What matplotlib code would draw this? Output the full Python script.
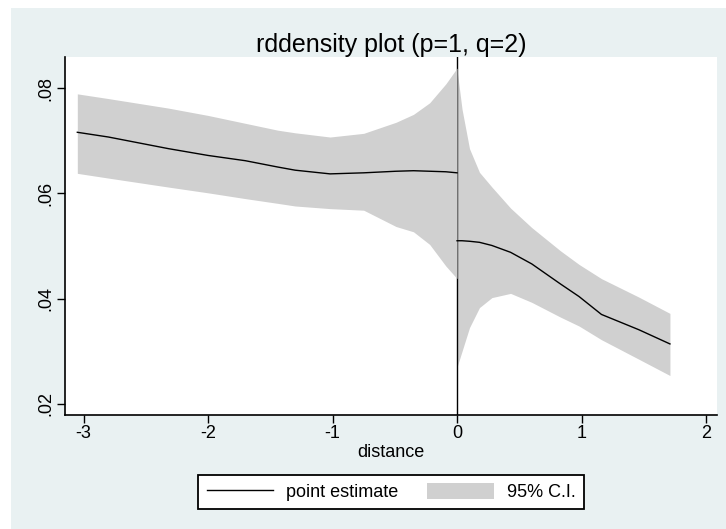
import matplotlib
matplotlib.use("Agg")
import matplotlib.pyplot as plt
from matplotlib.patches import Rectangle, Patch
from matplotlib.lines import Line2D

plt.rcParams['font.family'] = ['Liberation Sans', 'DejaVu Sans']

# ---- data ----
left_x = [-3.05, -2.8, -2.32, -2.0, -1.7, -1.44, -1.3, -1.02, -0.75, -0.49, -0.35, -0.22, -0.09, 0.0]
left_est = [0.0716, 0.0707, 0.0685, 0.0672, 0.0662, 0.0650, 0.0644, 0.0637, 0.0639, 0.0642, 0.0643, 0.0642, 0.0641, 0.0639]
left_hi = [0.0789, 0.0780, 0.0762, 0.0748, 0.0733, 0.0720, 0.0715, 0.0707, 0.0714, 0.0735, 0.0750, 0.0772, 0.0808, 0.0838]
left_lo = [0.0638, 0.0629, 0.0612, 0.0601, 0.0590, 0.0581, 0.0576, 0.0571, 0.0568, 0.0537, 0.0527, 0.0503, 0.0462, 0.0438]

right_x = [0.0, 0.04, 0.10, 0.18, 0.28, 0.43, 0.60, 0.83, 0.98, 1.16, 1.46, 1.71]
right_est = [0.0510, 0.0510, 0.0509, 0.0507, 0.0501, 0.0488, 0.0466, 0.0428, 0.0404, 0.0370, 0.0341, 0.0314]
right_hi = [0.0835, 0.0760, 0.0685, 0.0640, 0.0612, 0.0572, 0.0535, 0.0491, 0.0465, 0.0438, 0.0403, 0.0372]
right_lo = [0.0270, 0.0300, 0.0345, 0.0383, 0.0402, 0.0410, 0.0393, 0.0365, 0.0348, 0.0322, 0.0285, 0.0254]

x_ticks = [-3, -2, -1, 0, 1, 2]
x_ticklabels = ['-3', '-2', '-1', '0', '1', '2']
y_ticks = [0.02, 0.04, 0.06, 0.08]
y_ticklabels = ['.02', '.04', '.06', '.08']

title = 'rddensity plot (p=1, q=2)'
xlabel = 'distance'
legend_labels = ['point estimate', '95% C.I.']

# ---- figure ----
W, H = 726, 529
fig = plt.figure(figsize=(W / 100, H / 100), dpi=100, facecolor='white')
bg = '#E9F1F2'
fig.patches.append(Rectangle((11 / W, 0), 1 - 11 / W, 1 - 8 / H, transform=fig.transFigure,
                             facecolor=bg, edgecolor='none', zorder=-10))

ax = fig.add_axes([65 / W, (H - 415) / H, (717 - 65) / W, (415 - 57) / H])
ax.set_facecolor('white')

band_col = '#D0D0D0'
ax.fill_between(right_x, right_lo, right_hi, color=band_col, lw=0, zorder=1)
ax.axvline(0, color='black', lw=1.0, zorder=2)
ax.fill_between(left_x, left_lo, left_hi, color=band_col, lw=0, zorder=3)
ax.plot(left_x, left_est, color='black', lw=1.0, zorder=4)
ax.plot(right_x, right_est, color='black', lw=1.0, zorder=4)

ax.set_xlim(-3.149, 2.088)
ax.set_ylim(0.0179, 0.0859)

for s in ['top', 'right']:
    ax.spines[s].set_visible(False)
for s in ['left', 'bottom']:
    ax.spines[s].set_linewidth(1.2)
    ax.spines[s].set_color('black')

ax.set_xticks(x_ticks)
ax.set_xticklabels(x_ticklabels)
ax.set_yticks(y_ticks)
ax.set_yticklabels(y_ticklabels, rotation=90, va='center')
ax.tick_params(axis='both', direction='out', length=6, width=1.0, labelsize=13, color='black')
ax.tick_params(axis='x', pad=1.5)
ax.tick_params(axis='y', pad=1.5)

ax.set_xlabel(xlabel, fontsize=13, labelpad=1)

fig.text(391 / W, 1 - 52 / H, title, ha='center', va='baseline', fontsize=18)

handles = [Line2D([0], [0], color='black', lw=1.0),
           Patch(facecolor=band_col, edgecolor='none')]
leg = fig.legend(handles, legend_labels, ncol=2, loc='center',
                 bbox_to_anchor=(391 / W, 1 - 492 / H), fontsize=13,
                 frameon=True, fancybox=False, shadow=False,
                 handlelength=3.7, handleheight=1.0, handletextpad=0.7,
                 columnspacing=1.6, borderpad=0.45, borderaxespad=0)
fr = leg.get_frame()
fr.set_edgecolor('black')
fr.set_linewidth(1.3)
fr.set_facecolor('white')
fr.set_alpha(1)

fig.savefig('out.png', dpi=100, facecolor=fig.get_facecolor())
